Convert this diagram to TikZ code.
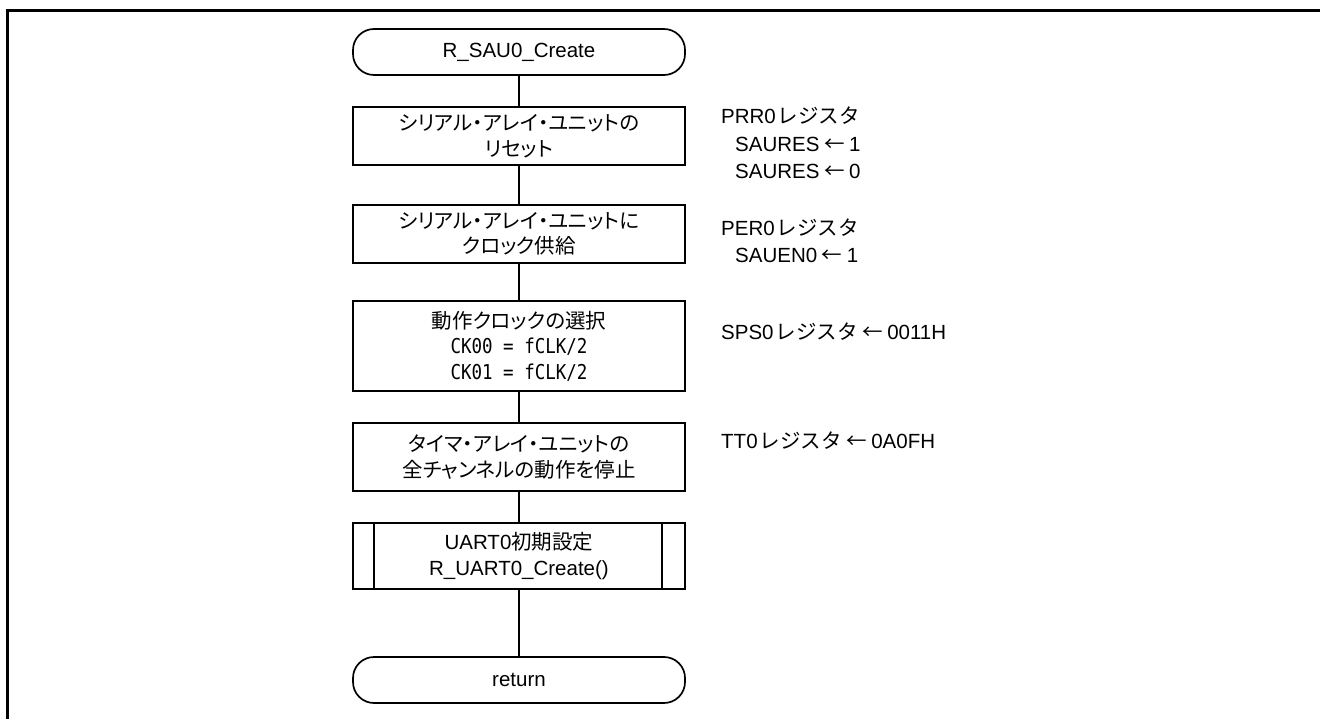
\documentclass[tikz,border=0pt]{standalone}
\usepackage{fontspec}
\usepackage{graphicx}
\setmainfont{Liberation Sans}
\newfontfamily\jp{Noto Sans CJK JP}[RawFeature=+palt]
\newfontfamily\jpf{Noto Sans CJK JP}
\newfontfamily\monof{DejaVu Sans Mono}
\newcommand\la{\rmfamily}
\newcommand\mo[1]{\scalebox{1}[1.17]{\monof\fontsize{17.5}{25.5}\selectfont #1}}
\begin{document}
\begin{tikzpicture}[x=1pt,y=-1pt,
  every node/.style={inner sep=0pt},
  stepbox/.style={draw, line width=1.7pt, minimum width=332pt, align=center,
    font=\jp\fontsize{20.5}{25.5}\selectfont},
  term/.style={stepbox, rounded corners=21pt, minimum height=46pt},
  note/.style={anchor=west, align=left, font=\jpf\fontsize{20.5}{27.5}\selectfont},
  conn/.style={line width=1.6pt}]
\useasboundingbox (0,0) rectangle (1320,719);
\draw[line width=3.2pt] (7.7,719) -- (7.7,10.5) -- (1320,10.5);

\node[term] (start) at (519,52) {\la R\_SAU0\_Create};
\node[stepbox, minimum height=58pt] (b1) at (519,136) {シリアル・アレイ・ユニットの\\リセット};
\node[stepbox, minimum height=58pt] (b2) at (519,234) {シリアル・アレイ・ユニットに\\クロック供給};
\node[stepbox, minimum height=90pt] (b3) at (519,346) {動作クロックの選択\\\mo{CK00 = fCLK/2}\\\mo{CK01 = fCLK/2}};
\node[stepbox, minimum height=68pt] (b4) at (519,457) {タイマ・アレイ・ユニットの\\全チャンネルの動作を停止};
\node[stepbox, minimum height=66pt] (sub) at (519,556) {{\la UART0}初期設定\\{\la R\_UART0\_Create()}};
\draw[line width=1.4pt] ([xshift=22pt]sub.north west) -- ([xshift=22pt]sub.south west);
\draw[line width=1.4pt] ([xshift=-24pt]sub.north east) -- ([xshift=-24pt]sub.south east);
\node[term] (ret) at (519,680) {\la return};

\draw[conn] (start) -- (b1);
\draw[conn] (b1) -- (b2);
\draw[conn] (b2) -- (b3);
\draw[conn] (b3) -- (b4);
\draw[conn] (b4) -- (sub);
\draw[conn] (sub) -- (ret);

\node[note] (n1) at (721,143) {{\la PRR0}\kern2ptレジスタ\\\hspace*{14pt}{\la SAURES} ← {\la 1}\\\hspace*{14pt}{\la SAURES} ← {\la 0}};
\node[note] (n2) at (721,241) {{\la PER0}\kern2ptレジスタ\\\hspace*{14pt}{\la SAUEN0} ← {\la 1}};
\node[note] (n3) at (721,332) {{\la SPS0}\kern2ptレジスタ ← {\la 0011H}};
\node[note] (n4) at (721,441) {{\la TT0}\kern2ptレジスタ ← {\la 0A0FH}};
\end{tikzpicture}
\end{document}
